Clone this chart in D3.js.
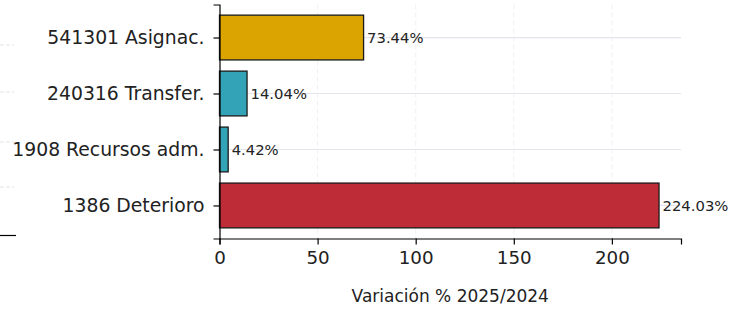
<!DOCTYPE html>
<html><head><meta charset="utf-8">
<script src="https://cdn.jsdelivr.net/npm/d3@7"></script>
<style>body{margin:0;background:#fff}svg{display:block}</style>
</head><body>
<script>
const categories = ["541301 Asignac.", "240316 Transfer.", "1908 Recursos adm.", "1386 Deterioro"];
const values = [73.44, 14.04, 4.42, 224.03];
const colors = ["#DBA400", "#33A3B7", "#33A3B7", "#BE2C38"];
const labels = ["73.44%", "14.04%", "4.42%", "224.03%"];
const xTicks = [0, 50, 100, 150, 200];
const xLabel = "Variación % 2025/2024";

(function () {
const W = 736, H = 309;
const svg = d3.select("body").append("svg").attr("width", W).attr("height", H);
const font = "DejaVu Sans, sans-serif";

const mLeft = 219.5, mRight = 681, mTop = 4.5, mBottom = 238.5;
const x = d3.scaleLinear().domain([0, 224.03 * 1.05]).range([mLeft, mRight]);
const y = d3.scaleLinear().domain([-0.59, 3.59]).range([mTop, mBottom]);

const g0 = svg.append("g");
[45, 92, 142, 187].forEach(v => g0.append("line").attr("x1", 0).attr("x2", 14).attr("y1", v).attr("y2", v)
  .attr("stroke", "#e4e4e4").attr("stroke-dasharray", "4,2"));
g0.append("line").attr("x1", 0).attr("x2", 16).attr("y1", 235.5).attr("y2", 235.5).attr("stroke", "#000").attr("stroke-width", 1.2);

svg.append("g").selectAll("line").data(xTicks.filter(d => d > 0)).join("line")
  .attr("x1", d => x(d)).attr("x2", d => x(d)).attr("y1", mTop).attr("y2", mBottom)
  .attr("stroke", "#ececec").attr("stroke-dasharray", "5,3").attr("stroke-width", 0.8);
svg.append("g").selectAll("line").data(categories).join("line")
  .attr("x1", mLeft).attr("x2", mRight).attr("y1", (d, i) => y(i)).attr("y2", (d, i) => y(i))
  .attr("stroke", "#e3e5ea").attr("stroke-width", 1.2);

svg.append("g").selectAll("rect").data(values).join("rect")
  .attr("x", x(0)).attr("y", (d, i) => y(i - 0.4))
  .attr("width", d => x(d) - x(0)).attr("height", (d, i) => y(i + 0.4) - y(i - 0.4))
  .attr("fill", (d, i) => colors[i]).attr("stroke", "#1a1a1a").attr("stroke-width", 1.3);

svg.append("g").selectAll("text").data(values).join("text")
  .attr("x", d => x(d) + 3.5).attr("y", (d, i) => y(i)).attr("dy", "0.35em")
  .attr("font-family", font).attr("font-size", 14.8).attr("fill", "#222")
  .text((d, i) => labels[i]);

const yAxis = d3.axisLeft(y).tickValues(d3.range(categories.length)).tickFormat(i => categories[i]).tickSizeOuter(0).tickSize(6).tickPadding(9);
const ya = svg.append("g").attr("transform", `translate(${mLeft},0)`).call(yAxis);
ya.select(".domain").attr("stroke", "#000").attr("stroke-width", 1.2);
ya.selectAll(".tick line").attr("stroke", "#000").attr("stroke-width", 1.2);
ya.selectAll(".tick text").attr("font-family", font).attr("font-size", 18.8).attr("fill", "#222");

const xAxis = d3.axisBottom(x).tickValues(xTicks).tickSizeOuter(0).tickSize(6).tickPadding(7);
const xa = svg.append("g").attr("transform", `translate(0,${mBottom})`).call(xAxis);
xa.select(".domain").attr("stroke", "#000").attr("stroke-width", 1.2);
xa.selectAll(".tick line").attr("stroke", "#000").attr("stroke-width", 1.2);
xa.selectAll(".tick text").attr("font-family", font).attr("font-size", 18.3).attr("fill", "#222");

svg.append("text").attr("x", (mLeft + mRight) / 2).attr("y", 302).attr("text-anchor", "middle")
  .attr("font-family", font).attr("font-size", 17).attr("fill", "#222").text(xLabel);
})();
</script>
</body></html>
